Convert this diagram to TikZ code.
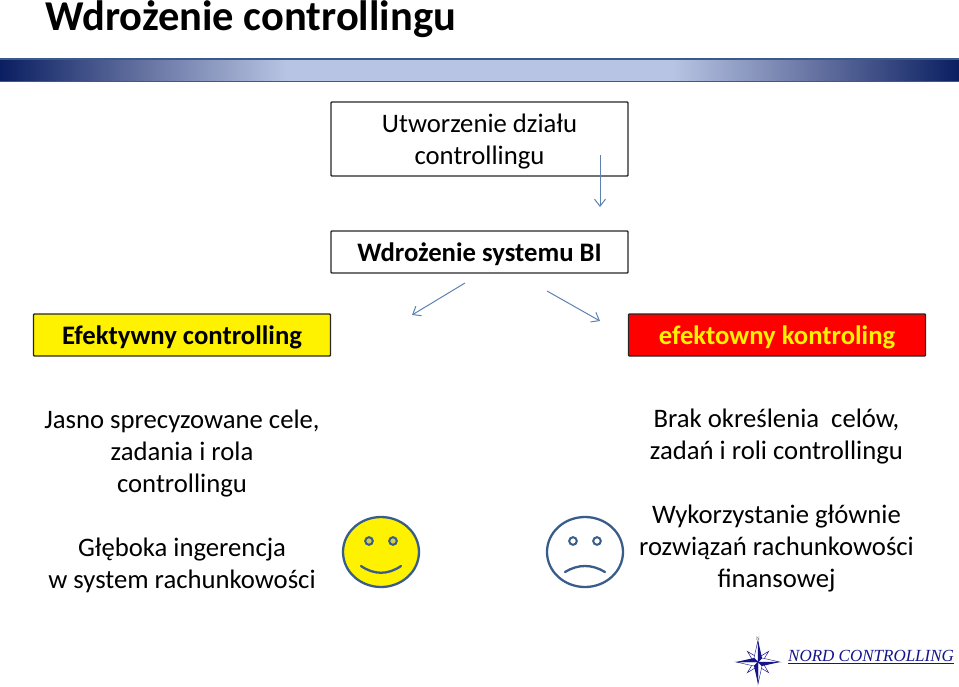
\documentclass[tikz,border=0pt]{standalone}
\usepackage{fontspec}
\setmainfont{Carlito}
\newfontfamily\logofont{Liberation Serif}
\usetikzlibrary{arrows.meta}
\definecolor{barline}{HTML}{3A5A8C}
\definecolor{faceline}{HTML}{385D8A}
\definecolor{arrowblue}{HTML}{5B82B0}
\definecolor{logoblue}{HTML}{14148C}
\pgfdeclarehorizontalshading{barshade}{100bp}{
  rgb(0bp)=(0.04,0.12,0.38);
  rgb(25bp)=(0.04,0.12,0.38);
  rgb(33bp)=(0.42,0.47,0.65);
  rgb(40bp)=(0.72,0.77,0.89);
  rgb(60bp)=(0.72,0.77,0.89);
  rgb(67bp)=(0.42,0.47,0.65);
  rgb(75bp)=(0.04,0.12,0.38);
  rgb(100bp)=(0.04,0.12,0.38)}
\newcommand*{\lowered}[1]{\raisebox{-2.5pt}[\height][\depth]{#1}}
\tikzset{
  box/.style = {draw=black!85, line width=1.4pt, rounded corners=0.8pt, minimum width=297pt, inner sep=0pt, align=center},
  label/.style = {font=\fontsize{26.7}{32}\selectfont, align=center, inner sep=0pt},
  flow/.style = {draw=arrowblue, line width=1pt, -{Straight Barb[length=7pt,width=11pt]}},
  face/.style = {draw=faceline, line width=2.3pt, x radius=38pt, y radius=35pt},
  eye/.style = {draw=faceline, line width=2pt, radius=3.8pt},
  mouth/.style = {draw=faceline, line width=2.3pt, line cap=round}
}
\begin{document}
\begin{tikzpicture}[x=1pt,y=-1pt]
  \useasboundingbox (0,0) rectangle (959,686);

  \node[anchor=base west, inner sep=0pt, font=\fontsize{42.5}{46}\selectfont\bfseries] (title) at (45,30) {Wdrożenie controllingu};

  % header bar
  \path[shading=barshade] (0,60) rectangle (959,81);
  \draw[barline, line width=1.8pt] (0,59) -- (959,59) (0,81.5) -- (959,81.5);

  % boxes
  \node[box, minimum height=74pt, font=\fontsize{26.7}{32}\selectfont] (dzial) at (479.5,139) {\lowered{Utworzenie działu}\\\lowered{controllingu}};
  \node[box, minimum height=42pt, font=\fontsize{26.7}{32}\selectfont\bfseries] (wdrozenie) at (479.5,252) {\lowered{Wdrożenie systemu BI}};
  \node[box, minimum height=42pt, fill=yellow, font=\fontsize{26.7}{32}\selectfont\bfseries] (efektywny) at (182,335) {\lowered{Efektywny controlling}};
  \node[box, minimum height=42pt, fill=red, text=yellow, font=\fontsize{26.7}{32}\selectfont\bfseries] (efektowny) at (777,335) {\lowered{efektowny kontroling}};

  % arrows
  \coordinate (a1) at (600,155);
  \coordinate (a2) at (600,207);
  \coordinate (b1) at (465,283);
  \coordinate (b2) at (412,315);
  \coordinate (c1) at (547,291);
  \coordinate (c2) at (600,321);
  \draw[flow] (a1) -- (a2);
  \draw[flow] (b1) -- (b2);
  \draw[flow] (c1) -- (c2);

  % texts
  \node[label] (plus) at (182,501) {Jasno sprecyzowane cele,\\zadania i rola\\controllingu\\[32pt]Głęboka ingerencja\\w system rachunkowości};
  \node[label] (minus) at (776.5,501) {Brak określenia~ celów,\\zadań i roli controllingu\\[32pt]Wykorzystanie głównie\\rozwiązań rachunkowości\\finansowej};

  % faces
  \draw[face, fill=yellow] (381,552) ellipse [];
  \draw[eye, fill=yellow!60!gray] (369,541) circle [];
  \draw[eye, fill=yellow!60!gray] (393,541) circle [];
  \draw[mouth] (361,566) .. controls (374,575) and (388,575) .. (401,566);
  \draw[face] (585,552) ellipse [];
  \draw[eye] (573,541) circle [];
  \draw[eye] (597,541) circle [];
  \draw[mouth] (565,572) .. controls (578,564) and (592,564) .. (605,572);

  % logo
  \begin{scope}[shift={(758,662)}]
    \foreach \ang in {45,135,225,315}{
      \draw[logoblue, line width=0.5pt, fill=white, rotate=\ang] (0,0) -- (3,-3) -- (15,0) -- (3,3) -- cycle;
    }
    \foreach \ang in {0,90,180,270}{
      \draw[logoblue, line width=0.4pt, fill=white, rotate=\ang] (0,0) -- (4,-4) -- (22,0) -- cycle;
      \fill[logoblue, rotate=\ang] (0,0) -- (22,0) -- (4,4) -- cycle;
    }
  \end{scope}
  \node[inner sep=0pt, font=\logofont\fontsize{5}{5}\selectfont, text=black!70] (north) at (758,639) {N};
  \node[anchor=west, inner sep=0pt, text=logoblue, font=\logofont\itshape\fontsize{17}{18}\selectfont] (nord) at (788,655.5) {NORD CONTROLLING};
  \draw[logoblue, line width=0.8pt] (nord.south west) ++(0,1.5) -- ([yshift=-1.5pt]nord.south east);
\end{tikzpicture}
\end{document}
